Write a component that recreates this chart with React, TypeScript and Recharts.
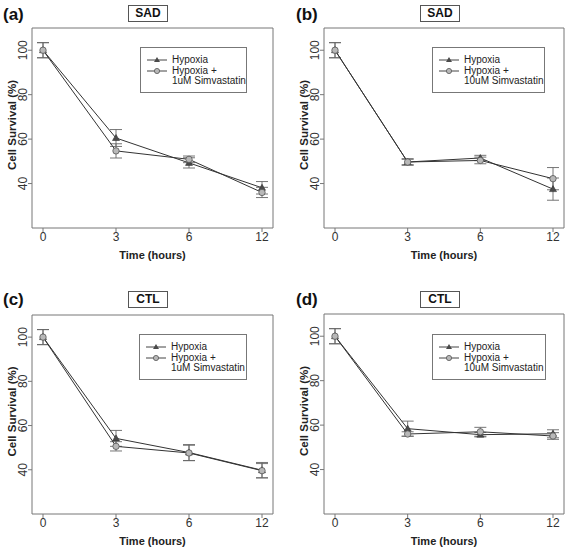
import { LineChart, Line, XAxis, YAxis, ErrorBar, Legend } from 'recharts';

const FONT = '"Liberation Sans", Arial, sans-serif';

const TIMES = ['0', '3', '6', '12'];
const Y_TICKS = [40, 60, 80, 100];

// (a) SAD, 1uM
const hypoxiaA = [100, 60.5, 49.3, 38.1];
const hypoxiaErrA = [3.4, 3.8, 2.3, 2.8];
const simvaA = [100, 54.7, 50.9, 36];
const simvaErrA = [3.4, 3.2, 1.5, 2.3];

// (b) SAD, 10uM
const hypoxiaB = [100, 49.7, 51.5, 37.5];
const hypoxiaErrB = [3.4, 1.5, 1.2, 5];
const simvaB = [100, 49.7, 50.4, 42.2];
const simvaErrB = [3.4, 1.2, 1.5, 5];

// (c) CTL, 1uM
const hypoxiaC = [100, 54.2, 47.8, 39.8];
const hypoxiaErrC = [3.4, 3.6, 3.6, 3.5];
const simvaC = [100, 50.6, 47.6, 39.6];
const simvaErrC = [3.4, 2.1, 3.5, 3.2];

// (d) CTL, 10uM
const hypoxiaD = [100, 58.4, 55.7, 56.1];
const hypoxiaErrD = [3.4, 3.4, 1, 1.8];
const simvaD = [100, 56, 57, 55.1];
const simvaErrD = [3.4, 1, 2, 1.5];

const buildRows = (hyp: number[], hypErr: number[], sim: number[], simErr: number[]) =>
  TIMES.map((t, i) => ({ time: t, hyp: hyp[i], hypErr: hypErr[i], sim: sim[i], simErr: simErr[i] }));

const Triangle = (props: any) => {
  const { cx, cy, index } = props;
  if (cx == null || cy == null) return <g key={`t-${index}`} />;
  return (
    <polygon
      key={`t-${index}`}
      points={`${cx},${cy - 3.5} ${cx - 3.5},${cy + 2.5} ${cx + 3.5},${cy + 2.5}`}
      fill="#4a4a4a"
      stroke="#333"
      strokeWidth={0.6}
    />
  );
};

const Circle = (props: any) => {
  const { cx, cy, index } = props;
  if (cx == null || cy == null) return <g key={`c-${index}`} />;
  return <circle key={`c-${index}`} cx={cx} cy={cy} r={3.2} fill="#b8b8b8" stroke="#555" strokeWidth={0.8} />;
};

const YTick = (props: any) => {
  const { x, y, payload } = props;
  return (
    <text
      x={x}
      y={y}
      transform={`rotate(-90 ${x} ${y})`}
      textAnchor="middle"
      fontSize={12}
      fill="#333"
      fontFamily={FONT}
    >
      {payload.value}
    </text>
  );
};

const YTitle = (props: any) => {
  const { viewBox, dist } = props;
  const cx = viewBox.x + viewBox.width - dist;
  const cy = viewBox.y + viewBox.height / 2 - 3;
  return (
    <text
      x={cx}
      y={cy}
      transform={`rotate(-90 ${cx} ${cy})`}
      textAnchor="middle"
      dominantBaseline="central"
      fontSize={11.5}
      fontWeight="bold"
      fill="#222"
      fontFamily={FONT}
    >
      Cell Survival (%)
    </text>
  );
};

const XTitle = (props: any) => {
  const { viewBox } = props;
  const cx = viewBox.x + viewBox.width / 2;
  const cy = viewBox.y + 27;
  return (
    <text
      x={cx}
      y={cy}
      textAnchor="middle"
      dominantBaseline="central"
      fontSize={11}
      fontWeight="bold"
      fill="#222"
      fontFamily={FONT}
    >
      Time (hours)
    </text>
  );
};

const LegendBox = ({ conc, w }: { conc: string; w: number }) => (
  <div
    style={{
      width: w,
      boxSizing: 'border-box',
      border: '1px solid #777',
      background: '#fff',
      padding: '7px 0 5px 6px',
      fontFamily: FONT,
      fontSize: 10,
      lineHeight: '10.5px',
      color: '#222',
    }}
  >
    <div style={{ display: 'flex', alignItems: 'center' }}>
      <svg width={20} height={8} style={{ marginRight: 5 }}>
        <line x1={0} y1={4} x2={20} y2={4} stroke="#444" />
        <polygon points="10,1 7,6 13,6" fill="#4a4a4a" />
      </svg>
      <span>Hypoxia</span>
    </div>
    <div style={{ display: 'flex', alignItems: 'flex-start' }}>
      <svg width={20} height={10} style={{ marginRight: 5 }}>
        <line x1={0} y1={5} x2={20} y2={5} stroke="#444" />
        <circle cx={10} cy={5} r={2.6} fill="#b8b8b8" stroke="#555" strokeWidth={0.8} />
      </svg>
      <span>
        Hypoxia +
        <br />
        {conc} Simvastatin
      </span>
    </div>
  </div>
);

type PanelProps = {
  tag: string;
  group: string;
  conc: string;
  rows: ReturnType<typeof buildRows>;
  left: number;
  top: number;
  width: number;
  axisW: number;
  mTop: number;
  mRight: number;
  xAxisH: number;
  legendX: number;
  legendY: number;
  legendW: number;
  titleX: number;
  titleY: number;
  tagX: number;
  tagY: number;
};

const Panel = (p: PanelProps) => (
  <div style={{ position: 'absolute', left: p.left, top: p.top, width: p.width, height: 275 }}>
    <LineChart
      width={p.width}
      height={275}
      data={p.rows}
      margin={{ top: p.mTop - 1, right: p.mRight - 1, bottom: 0, left: 0 }}
    >
      <XAxis
        dataKey="time"
        type="category"
        interval={0}
        padding={{ left: 11, right: 11 }}
        height={p.xAxisH}
        stroke="#777"
        tickSize={4}
        tickMargin={0}
        tick={{ fontSize: 12, fill: '#333', fontFamily: FONT }}
        label={<XTitle />}
      />
      {/* top and right axes only draw the box frame */}
      <XAxis
        xAxisId="top"
        dataKey="time"
        orientation="top"
        height={1}
        stroke="#777"
        tick={false}
        tickLine={false}
      />
      <YAxis
        type="number"
        domain={[20, 110]}
        ticks={Y_TICKS}
        allowDataOverflow
        width={p.axisW}
        stroke="#777"
        tickSize={4}
        tickMargin={1}
        tick={<YTick />}
        label={<YTitle dist={20} />}
      />
      <YAxis
        yAxisId="right"
        orientation="right"
        domain={[20, 110]}
        width={1}
        stroke="#777"
        tick={false}
        tickLine={false}
      />
      <Legend
        layout="vertical"
        verticalAlign="middle"
        align="center"
        content={<LegendBox conc={p.conc} w={p.legendW} />}
        wrapperStyle={{ left: p.legendX, top: p.legendY, width: p.legendW }}
      />
      <Line
        dataKey="hyp"
        name="Hypoxia"
        stroke="#333"
        strokeWidth={1}
        dot={Triangle}
        activeDot={false}
        isAnimationActive={false}
      >
        <ErrorBar dataKey="hypErr" width={6} stroke="#666" strokeWidth={0.9} direction="y" />
      </Line>
      <Line
        dataKey="sim"
        name={`Hypoxia + ${p.conc} Simvastatin`}
        stroke="#333"
        strokeWidth={1}
        dot={Circle}
        activeDot={false}
        isAnimationActive={false}
      >
        <ErrorBar dataKey="simErr" width={6} stroke="#666" strokeWidth={0.9} direction="y" />
      </Line>
    </LineChart>
    <div
      style={{
        position: 'absolute',
        left: p.tagX,
        top: p.tagY,
        fontFamily: FONT,
        fontWeight: 'bold',
        fontSize: 17,
        lineHeight: '20px',
        color: '#111',
      }}
    >
      {p.tag}
    </div>
    <div
      style={{
        position: 'absolute',
        left: p.titleX,
        top: p.titleY,
        width: 40,
        height: 17,
        boxSizing: 'border-box',
        border: '1px solid #555',
        fontFamily: FONT,
        fontWeight: 'bold',
        fontSize: 12,
        lineHeight: '15px',
        textAlign: 'center',
        color: '#111',
      }}
    >
      {p.group}
    </div>
  </div>
);

const App = () => (
  <div style={{ position: 'absolute', left: 0, top: 0, width: 567, height: 550, background: '#fff' }}>
    <Panel
      tag="(a)" group="SAD" conc="1uM"
      rows={buildRows(hypoxiaA, hypoxiaErrA, simvaA, simvaErrA)}
      left={0} top={0} width={283} axisW={32} mTop={28} mRight={10} xAxisH={47}
      legendX={140} legendY={47} legendW={107}
      titleX={128} titleY={5} tagX={3} tagY={5}
    />
    <Panel
      tag="(b)" group="SAD" conc="10uM"
      rows={buildRows(hypoxiaB, hypoxiaErrB, simvaB, simvaErrB)}
      left={283} top={0} width={284} axisW={41} mTop={28} mRight={3} xAxisH={47}
      legendX={149} legendY={47} legendW={113}
      titleX={137} titleY={5} tagX={13} tagY={5}
    />
    <Panel
      tag="(c)" group="CTL" conc="1uM"
      rows={buildRows(hypoxiaC, hypoxiaErrC, simvaC, simvaErrC)}
      left={0} top={275} width={283} axisW={32} mTop={40} mRight={10} xAxisH={36}
      legendX={139} legendY={59} legendW={108}
      titleX={128} titleY={16} tagX={3} tagY={15}
    />
    <Panel
      tag="(d)" group="CTL" conc="10uM"
      rows={buildRows(hypoxiaD, hypoxiaErrD, simvaD, simvaErrD)}
      left={283} top={275} width={284} axisW={41} mTop={39} mRight={3} xAxisH={36}
      legendX={149} legendY={59} legendW={114}
      titleX={137} titleY={16} tagX={13} tagY={15}
    />
  </div>
);

export default App;
